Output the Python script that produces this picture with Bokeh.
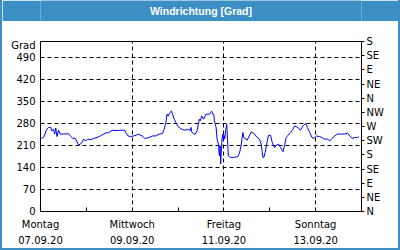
from bokeh.plotting import figure
from bokeh.models import (LinearAxis, FixedTicker, Grid, Range1d, Column)
from bokeh.core.properties import value
from bokeh.embed import file_html
from bokeh.resources import INLINE

title_text = "Windrichtung [Grad]"
# hours since Montag 07.09.20 00:00
hours = [0.4,1.6,3.3,4.2,5.4,5.9,6.8,7.4,8.0,8.6,
         9.5,10.3,12.1,14.7,15.6,16.8,18.2,20.0,21.4,22.6,
         23.5,24.8,26.1,27.8,29.6,31.3,34.0,35.7,37.4,40.1,
         41.8,44.1,44.8,45.8,47.1,48.8,50.0,51.1,53.2,54.6,
         56.3,58.6,60.4,62.1,63.9,64.7,65.6,66.2,66.8,67.7,
         68.6,69.2,70.0,70.9,72.1,73.5,75.2,77.0,78.4,78.8,
         79.1,80.2,81.0,81.9,82.6,83.1,83.6,84.4,85.4,86.6,
         88.4,88.9,89.6,90.1,90.7,91.0,91.9,92.4,93.1,93.6,
         94.0,94.3,94.7,95.0,95.4,95.7,96.1,96.4,97.0,97.5,
         98.0,98.3,99.4,101.5,103.3,104.1,105.0,105.9,106.4,108.2,
         110.3,112.0,113.4,114.6,115.5,116.0,116.4,116.9,117.6,118.7,
         119.3,120.4,121.3,122.5,123.4,124.6,125.6,126.9,127.7,128.6,
         129.5,130.9,132.1,133.0,133.9,134.8,136.0,137.4,138.8,139.7,
         140.9,142.1,143.2,144.4,146.1,147.4,148.4,150.2,151.4,152.6,
         154.0,155.4,157.5,159.2,160.7,161.9,163.1,164.5,165.9,166.6]
direction = [232,235,261,267,267,256,261,246,265,238,
             258,246,246,247,240,233,232,211,217,230,
             224,230,228,232,235,240,249,251,258,257,
             258,258,249,240,238,240,242,246,240,232,
             234,240,240,246,248,261,282,309,303,314,
             319,307,293,282,269,263,258,261,258,267,
             253,246,246,256,277,293,288,303,293,309,
             309,314,319,309,309,288,267,230,214,177,
             209,151,198,230,246,224,242,230,261,277,
             214,177,172,172,175,185,209,251,235,227,
             253,246,235,230,214,190,172,172,188,224,
             242,242,219,203,211,214,203,190,209,235,
             242,251,261,272,269,267,258,272,280,267,
             251,235,232,240,238,235,230,230,224,232,
             240,246,246,246,249,240,232,235,235,238]

x_major = [0, 48, 96, 144]
x_minor = [24, 72, 120]
day_names = ["Montag", "Mittwoch", "Freitag", "Sonntag"]
day_dates = ["07.09.20", "09.09.20", "11.09.20", "13.09.20"]
y_ticks = [0, 70, 140, 210, 280, 350, 420, 490]
y_unit = "Grad"
y_unit_pos = 527
compass_ticks = [0, 45, 90, 135, 180, 225, 270, 315, 360, 405, 450, 495, 540]
compass_labels = ["N", "NE", "E", "SE", "S", "SW", "W", "NW", "N", "NE", "E", "SE", "S"]

FONT = "DejaVu Sans"
BLUE = "#3b8fc5"

# title bar
t = figure(width=396, height=21, x_range=Range1d(0, 1), y_range=Range1d(0, 1),
           output_backend="svg", toolbar_location=None,
           x_axis_type=None, y_axis_type=None,
           min_border=0, background_fill_color=BLUE, border_fill_color=BLUE,
           outline_line_color=None)
t.xgrid.visible = False
t.ygrid.visible = False
t.text(x=[0.5], y=[0.5], text=[title_text], text_align="center",
       text_baseline="middle", text_color="white", text_font=value("Liberation Sans"),
       text_font_size="10.5px", text_font_style="bold")

p = figure(frame_width=321, frame_height=170,
           x_range=Range1d(0, 168), y_range=Range1d(0, 540),
           output_backend="svg", toolbar_location=None,
           x_axis_type=None, y_axis_type=None,
           min_border_left=38, min_border_right=37, min_border_top=20,
           min_border_bottom=37,
           background_fill_color="white", border_fill_color="white",
           outline_line_color="black", outline_line_width=1)
p.xgrid.visible = False
p.ygrid.visible = False

gx = Grid(dimension=0, ticker=FixedTicker(ticks=x_major[1:]),
          grid_line_color="black", grid_line_dash="4 3", grid_line_width=1)
gy = Grid(dimension=1, ticker=FixedTicker(ticks=y_ticks[1:]),
          grid_line_color="black", grid_line_dash="4 3", grid_line_width=1)
p.add_layout(gx)
p.add_layout(gy)

p.line(hours, direction, line_color="#0000ff", line_width=1)

def style(ax):
    ax.major_label_text_font = FONT
    ax.major_label_text_font_size = "10px"
    ax.major_label_text_color = "black"
    ax.axis_line_color = "black"
    ax.major_tick_line_color = "black"
    ax.minor_tick_line_color = "black"

ax1 = LinearAxis(ticker=FixedTicker(ticks=x_major, minor_ticks=x_minor),
                 major_label_overrides={k: v for k, v in zip(x_major, day_names)})
style(ax1)
ax1.major_tick_in = 0
ax1.major_tick_out = 0
ax1.minor_tick_in = 4
ax1.minor_tick_out = 0
ax1.major_label_standoff = 7
p.add_layout(ax1, "below")

ax2 = LinearAxis(ticker=FixedTicker(ticks=x_major),
                 major_label_overrides={k: v for k, v in zip(x_major, day_dates)})
style(ax2)
ax2.axis_line_color = None
ax2.major_tick_line_color = None
ax2.minor_tick_line_color = None
ax2.major_label_standoff = -3
p.add_layout(ax2, "below")

ly = LinearAxis(ticker=FixedTicker(ticks=y_ticks + [y_unit_pos]),
                major_label_overrides={**{k: str(k) for k in y_ticks}, y_unit_pos: y_unit})
style(ly)
ly.major_tick_in = 0
ly.major_tick_out = 0
ly.minor_tick_line_color = None
ly.major_label_standoff = 5
p.add_layout(ly, "left")

ry = LinearAxis(ticker=FixedTicker(ticks=compass_ticks),
                major_label_overrides={k: v for k, v in zip(compass_ticks, compass_labels)})
style(ry)
ry.major_tick_in = 0
ry.major_tick_out = 3
ry.minor_tick_line_color = None
ry.major_label_standoff = 2
p.add_layout(ry, "right")

layout = Column(children=[t, p], spacing=0,
                styles={"border-left": f"2px solid {BLUE}",
                        "border-right": f"2px solid {BLUE}",
                        "border-bottom": f"2px solid {BLUE}",
                        "background-color": "white"})

open("out.html", "w").write(file_html(layout, INLINE))
